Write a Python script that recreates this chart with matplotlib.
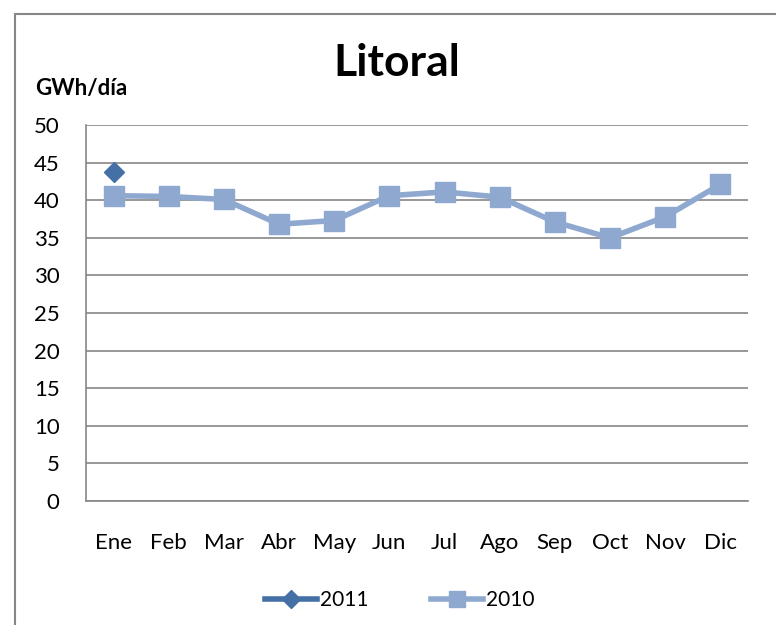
import matplotlib.pyplot as plt
from matplotlib.patches import Rectangle
from matplotlib.lines import Line2D

months = ["Ene", "Feb", "Mar", "Abr", "May", "Jun", "Jul", "Ago", "Sep", "Oct", "Nov", "Dic"]
values_2010 = [40.6, 40.5, 40.1, 36.8, 37.3, 40.6, 41.1, 40.4, 37.1, 35.0, 37.8, 42.1]
months_2011 = ["Ene"]
values_2011 = [43.7]
y_ticks = [0, 5, 10, 15, 20, 25, 30, 35, 40, 45, 50]

color_2011 = "#4470A6"
color_2010 = "#8FA8D0"
grid_color = "#868686"

plt.rcParams["font.family"] = ["Lato", "DejaVu Sans"]

fig = plt.figure(figsize=(7.76, 6.25), dpi=100)
fig.patches.append(
    Rectangle((15 / 776, -0.1), 1.2, 1 - 14 / 625 + 0.1, transform=fig.transFigure,
              fill=False, edgecolor="#868686", linewidth=1.5)
)

ax = fig.add_axes([86 / 776, 1 - 501 / 625, (748 - 86) / 776, 376 / 625])

x10 = [months.index(m) for m in months]
x11 = [months.index(m) for m in months_2011]
ax.plot(x10, values_2010, color=color_2010, linewidth=4, marker="s", markersize=14,
        markerfacecolor=color_2010, markeredgecolor=color_2010, zorder=3)
ax.plot(x11, values_2011, color=color_2011, linewidth=4, marker="D", markersize=10,
        markerfacecolor=color_2011, markeredgecolor=color_2011, zorder=4)

ax.set_xlim(-0.5, 11.5)
ax.set_ylim(0, 50)
ax.set_yticks(y_ticks)
ax.set_yticklabels([str(v) for v in y_ticks], fontsize=16)
ax.set_xticks(range(len(months)))
ax.set_xticklabels(months, fontsize=16)
ax.tick_params(axis="both", length=0)
ax.tick_params(axis="y", pad=19)
ax.tick_params(axis="x", pad=23)
ax.grid(axis="y", color=grid_color, linewidth=1.2)
ax.set_axisbelow(True)
for side in ["top", "right"]:
    ax.spines[side].set_visible(False)
for side in ["left", "bottom"]:
    ax.spines[side].set_color(grid_color)
    ax.spines[side].set_linewidth(1.2)

fig.text(397 / 776, 1 - 63 / 625, "Litoral", ha="center", va="center",
         fontsize=32, fontweight="bold")
fig.text(35 / 776, 1 - 88 / 625, "GWh/día", ha="left", va="center",
         fontsize=16, fontweight="bold")

handles = [
    Line2D([], [], color=color_2011, linewidth=4, marker="D", markersize=9),
    Line2D([], [], color=color_2010, linewidth=4, marker="s", markersize=12),
]
fig.legend(handles, ["2011", "2010"], loc="center", bbox_to_anchor=(400 / 776, 1 - 600 / 625),
           ncol=2, frameon=False, fontsize=15, handlelength=2.5, handletextpad=0.15,
           columnspacing=3.0)

fig.savefig("out.png", dpi=100)
